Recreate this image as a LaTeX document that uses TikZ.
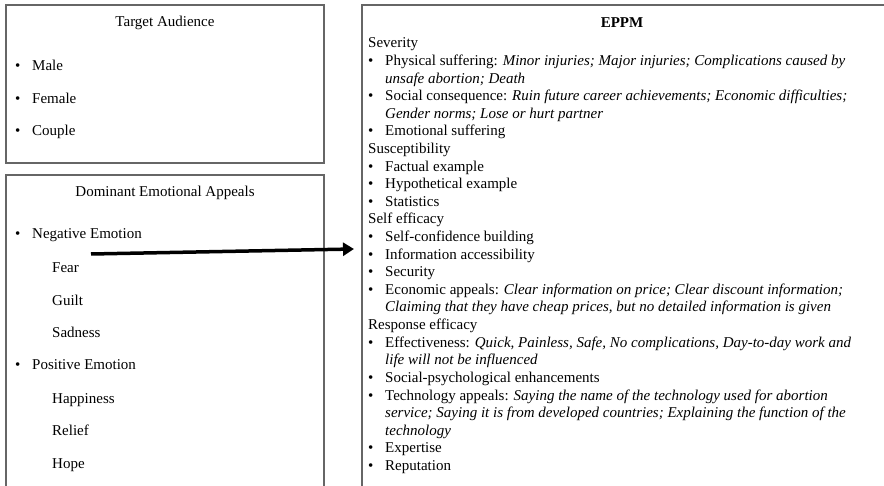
\documentclass[tikz,border=0pt]{standalone}
\usepackage{fontspec}
\setmainfont{Liberation Serif}
\usetikzlibrary{arrows.meta}

\tikzset{
  panel/.style={draw=black!60, line width=1.1pt},
  ttl/.style={anchor=base, inner sep=0pt},
  lbl/.style={anchor=base west, inner sep=0pt},
}
\newcommand{\bul}{\makebox[17pt][l]{\textbullet}}
\newcommand{\ind}{\hspace*{17pt}}

\begin{document}
\begin{tikzpicture}[x=1pt, y=-1pt, font=\fontsize{15}{18}\selectfont]
\useasboundingbox (0,0) rectangle (884,486);
\clip (0,0) rectangle (884,486);

% boxes
\draw[panel] (6,5) rectangle (324,163);
\draw[panel] (6,175) rectangle (324,520);
\draw[panel] (362,5) rectangle (920,520);

% target audience
\node[ttl] (ta) at (165,27) {Target Audience};
\foreach \who [count=\i from 0] in {Male, Female, Couple} {
  \node[lbl] (ta\i) at (15,71+32.5*\i) {\bul\who};
}

% emotional appeals
\node[ttl] (dea) at (165,197) {Dominant Emotional Appeals};
\node[lbl] (neg) at (15,239) {\bul Negative Emotion};
\foreach \emo [count=\i from 0] in {Fear, Guilt, Sadness} {
  \node[lbl] (neg\i) at (52,273+32.5*\i) {\emo};
}
\node[lbl] (pos) at (15,370) {\bul Positive Emotion};
\foreach \emo [count=\i from 0] in {Happiness, Relief, Hope} {
  \node[lbl] (pos\i) at (52,403+32.5*\i) {\emo};
}

% EPPM
\node[ttl, font=\fontsize{15}{18}\selectfont\bfseries] (eppm) at (622,28) {EPPM};
\foreach \line [count=\i from 0] in {
  {Severity},
  {\bul Physical suffering: \emph{Minor injuries; Major injuries; Complications caused by}},
  {\ind\emph{unsafe abortion; Death}},
  {\bul Social consequence: \emph{Ruin future career achievements; Economic difficulties;}},
  {\ind\emph{Gender norms; Lose or hurt partner}},
  {\bul Emotional suffering},
  {Susceptibility},
  {\bul Factual example},
  {\bul Hypothetical example},
  {\bul Statistics},
  {Self efficacy},
  {\bul Self-confidence building},
  {\bul Information accessibility},
  {\bul Security},
  {\bul Economic appeals: \emph{Clear information on price; Clear discount information;}},
  {\ind\emph{Claiming that they have cheap prices, but no detailed information is given}},
  {Response efficacy},
  {\bul Effectiveness: \emph{Quick, Painless, Safe, No complications, Day-to-day work and}},
  {\ind\emph{life will not be influenced}},
  {\bul Social-psychological enhancements},
  {\bul Technology appeals: \emph{Saying the name of the technology used for abortion}},
  {\ind\emph{service; Saying it is from developed countries; Explaining the function of the}},
  {\ind\emph{technology}},
  {\bul Expertise},
  {\bul Reputation}} {
  \node[lbl] (e\i) at (368,48+17.6*\i) {\line};
}

% link
\coordinate (tail) at (91,254);
\coordinate (tip) at (354,249);
\draw[line width=3.5pt, -{Triangle[length=11pt,width=13pt]}] (tail) -- (tip);
\end{tikzpicture}
\end{document}
